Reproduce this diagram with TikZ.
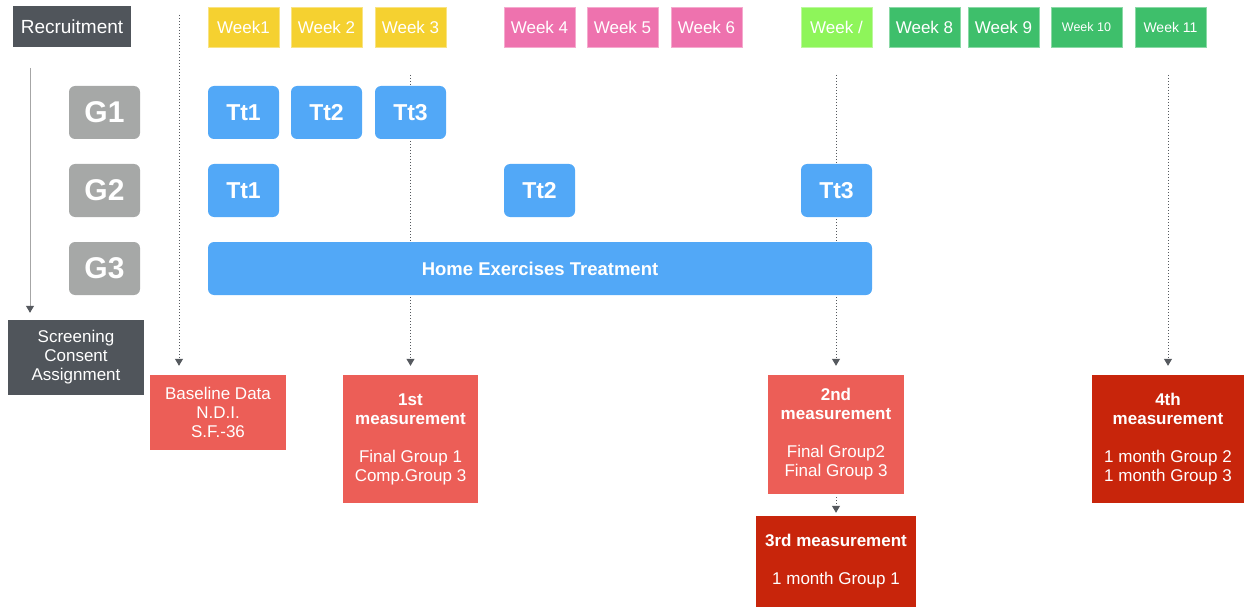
\documentclass[tikz,border=0pt]{standalone}
\usepackage{fontspec}
\setmainfont{Liberation Sans}
\usetikzlibrary{arrows.meta}
\definecolor{darkbox}{HTML}{50555B}
\definecolor{wyellow}{HTML}{F5D130}
\definecolor{wpink}{HTML}{EE72AE}
\definecolor{wlgreen}{HTML}{8EF55A}
\definecolor{wgreen}{HTML}{3EBF6B}
\definecolor{gbox}{HTML}{A6A8A7}
\definecolor{tblue}{HTML}{52A8F7}
\definecolor{salmon}{HTML}{EC5E57}
\definecolor{dred}{HTML}{C8250B}
\definecolor{arr}{HTML}{55595E}
\tikzset{
  base/.style={inner sep=0pt, text=white, align=center},
  dark/.style={base, fill=darkbox, font=\fontsize{17}{19}\selectfont},
  week/.style={base, fill=#1, draw=#1!60!white, line width=0.6pt, minimum width=71pt, minimum height=40pt, font=\fontsize{17}{19}\selectfont},
  grp/.style={base, fill=gbox, rounded corners=6pt, minimum width=71pt, minimum height=53pt, font=\bfseries\fontsize{30}{34}\selectfont},
  tt/.style={base, fill=tblue, rounded corners=6pt, minimum width=71pt, minimum height=53pt, font=\bfseries\fontsize{23}{26}\selectfont},
  meas/.style={base, fill=#1, font=\fontsize{17}{19}\selectfont},
  tip/.style={-{Triangle[width=8pt,length=7pt,color=arr]}},
  dots/.style={draw=arr, dotted, line width=1pt, tip},
}
\begin{document}
\begin{tikzpicture}[x=1pt,y=-1pt]
\useasboundingbox (0,0) rectangle (1248,607);
% header
\node[dark, minimum width=118pt, minimum height=41pt, font=\fontsize{19}{21}\selectfont] (rec) at (72,26.5) {Recruitment};
\node[week=wyellow] (w1) at (243.5,27) {Week1};
\node[week=wyellow] (w2) at (326.5,27) {Week 2};
\node[week=wyellow] (w3) at (410.5,27) {Week 3};
\node[week=wpink] (w4) at (539.5,27) {Week 4};
\node[week=wpink] (w5) at (622.5,27) {Week 5};
\node[week=wpink] (w6) at (706.5,27) {Week 6};
\node[week=wlgreen] (w7) at (836.5,27) {Week /};
\node[week=wgreen] (w8) at (924.5,27) {Week 8};
\node[week=wgreen] (w9) at (1003.5,27) {Week 9};
\node[week=wgreen, font=\fontsize{12.5}{14}\selectfont] (w10) at (1086.5,27) {Week 10};
\node[week=wgreen, font=\fontsize{14}{17}\selectfont] (w11) at (1170.5,27) {Week 11};
% measurement boxes
\node[dark, minimum width=136pt, minimum height=75pt] (scr) at (76,357.5) {Screening\\Consent\\Assignment};
\node[meas=salmon, minimum width=136pt, minimum height=75pt] (bl) at (218,412.5) {Baseline Data\\N.D.I.\\S.F.-36};
\node[meas=salmon, minimum width=135pt, minimum height=128pt] (m1) at (410.5,439) {\textbf{1st}\\\textbf{measurement}\\\mbox{}\\Final Group 1\\Comp.Group 3};
\node[meas=salmon, minimum width=136pt, minimum height=119pt] (m2) at (836,434.5) {\textbf{2nd}\\\textbf{measurement}\\\mbox{}\\Final Group2\\Final Group 3};
\node[meas=dred, minimum width=160pt, minimum height=91pt] (m3) at (836,561.5) {\textbf{3rd measurement}\\\mbox{}\\1 month Group 1};
\node[meas=dred, minimum width=152pt, minimum height=128pt] (m4) at (1168,439) {\textbf{4th}\\\textbf{measurement}\\\mbox{}\\1 month Group 2\\1 month Group 3};
% connectors (behind group rows)
\coordinate (t0) at (179,15);
\coordinate (t1) at (410.5,75);
\coordinate (t2) at (836,75);
\coordinate (t4) at (1168,75);
\coordinate (s0) at (30,68);
\draw[dots, shorten >=9pt] (t0) -- (t0 |- bl.north);
\draw[dots, shorten >=9pt] (t1) -- (m1.north);
\draw[dots, shorten >=9pt] (t2) -- (m2.north);
\draw[dots, shorten >=9pt] (t4) -- (m4.north);
\draw[dots, shorten >=3pt, shorten <=3pt] (m2.south) -- (m3.north);
\draw[draw=gray!70, line width=1pt, tip, shorten >=7pt] (s0) -- (s0 |- scr.north);
% groups
\node[grp] (g1) at (104.5,112.5) {G1};
\node[grp] (g2) at (104.5,190.5) {G2};
\node[grp] (g3) at (104.5,268.5) {G3};
\node[tt] (a1) at (243.5,112.5) {Tt1};
\node[tt] (a2) at (326.5,112.5) {Tt2};
\node[tt] (a3) at (410.5,112.5) {Tt3};
\node[tt] (b1) at (243.5,190.5) {Tt1};
\node[tt] (b2) at (539.5,190.5) {Tt2};
\node[tt] (b3) at (836.5,190.5) {Tt3};
\node[tt, minimum width=664pt, font=\bfseries\fontsize{18.5}{20}\selectfont] (home) at (540,268.5) {Home Exercises Treatment};
\end{tikzpicture}
\end{document}
